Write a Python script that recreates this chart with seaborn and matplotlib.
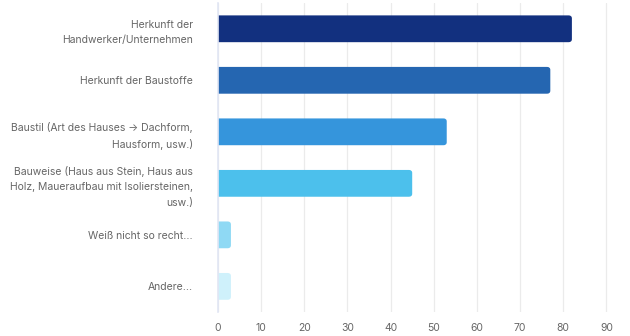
import matplotlib
matplotlib.use("Agg")
import matplotlib.pyplot as plt
import seaborn as sns
import pandas as pd
from matplotlib.patches import FancyBboxPatch

# Answers and counts
categories = [
    "Herkunft der\nHandwerker/Unternehmen",
    "Herkunft der Baustoffe",
    "Baustil (Art des Hauses \u2192 Dachform,\nHausform, usw.)",
    "Bauweise (Haus aus Stein, Haus aus\nHolz, Maueraufbau mit Isoliersteinen,\nusw.)",
    "Wei\u00df nicht so recht...",
    "Andere...",
]
values = [82, 77, 53, 45, 3, 3]
colors = ["#12307f", "#2566b1", "#3595dc", "#4cc0ec", "#8fd9f4", "#cff1fb"]
xticks = list(range(0, 100, 10))

df = pd.DataFrame({"answer": categories, "count": values})

sns.set_style("white")
plt.rcParams["font.family"] = ["Inter", "DejaVu Sans"]

fig = plt.figure(figsize=(6.3, 3.36), dpi=100)
ax = fig.add_axes([0.346, 0.071, 0.62, 0.92])

sns.barplot(data=df, x="count", y="answer", hue="answer", palette=colors,
            saturation=1, legend=False, width=0.52, ax=ax, zorder=3)

# swap the plain bars for ones with rounded right ends
for p in list(ax.patches):
    x0, y0 = p.get_x(), p.get_y()
    w, h = p.get_width(), p.get_height()
    fc = p.get_facecolor()
    p.remove()
    ax.add_patch(FancyBboxPatch((x0 - 2, y0), w + 2, h,
                                boxstyle="round,pad=0,rounding_size=0.75",
                                mutation_aspect=0.078, facecolor=fc,
                                edgecolor="none", zorder=3))

ax.set_xlim(0, 90.5)
ax.set_ylim(5.5, -0.5)
ax.set_xticks(xticks)
ax.xaxis.grid(True, color="#ebebeb", linewidth=0.9, zorder=0)
ax.set_xlabel("")
ax.set_ylabel("")
for s in ["top", "right", "bottom"]:
    ax.spines[s].set_visible(False)
ax.spines["left"].set_color("#e1e6f4")
ax.spines["left"].set_linewidth(1.2)
ax.spines["left"].set_zorder(4)
ax.tick_params(axis="both", length=0, labelsize=7.5, labelcolor="#666666")
ax.tick_params(axis="y", pad=18)
ax.tick_params(axis="x", pad=8)
for lbl in ax.get_yticklabels():
    lbl.set_horizontalalignment("right")
    lbl.set_multialignment("right")
    lbl.set_linespacing(1.65)

fig.savefig("out.png", dpi=100)
